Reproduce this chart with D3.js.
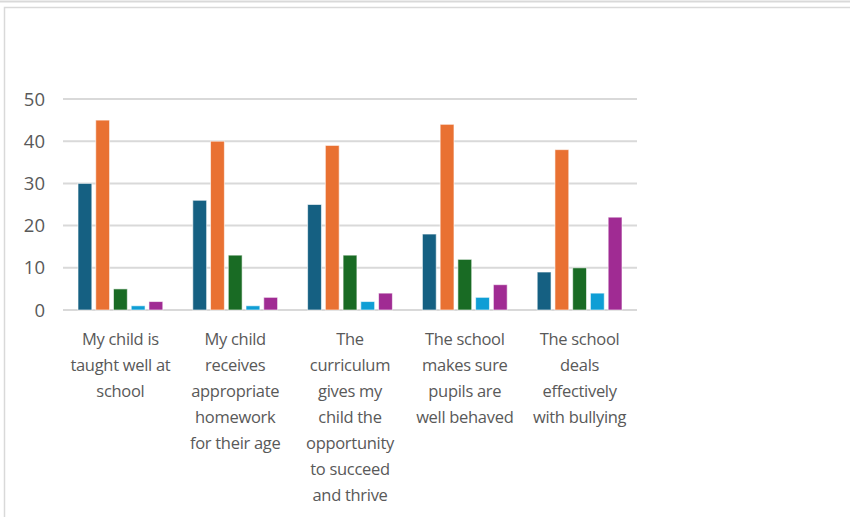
<!DOCTYPE html>
<html><head><meta charset="utf-8">
<script src="https://cdn.jsdelivr.net/npm/d3@7"></script>
<style>body{margin:0;background:#fff;} svg{display:block;}</style>
</head><body>
<svg id="c" width="850" height="517"></svg>
<script>
const categories = [
  "My child is\ntaught well at\nschool",
  "My child\nreceives\nappropriate\nhomework\nfor their age",
  "The\ncurriculum\ngives my\nchild the\nopportunity\nto succeed\nand thrive",
  "The school\nmakes sure\npupils are\nwell behaved",
  "The school\ndeals\neffectively\nwith bullying"
];
const seriesNames = ["S1","S2","S3","S4","S5"];
const s1 = [30, 26, 25, 18, 9];
const s2 = [45, 40, 39, 44, 38];
const s3 = [5, 13, 13, 12, 10];
const s4 = [1, 1, 2, 3, 4];
const s5 = [2, 3, 4, 6, 22];
const yTicks = [0, 10, 20, 30, 40, 50];
const colors = ["#156082", "#E97132", "#196B24", "#0F9ED5", "#A02B93"];

const series = [s1, s2, s3, s4, s5];
const svg = d3.select("#c");
const font = "'Open Sans', sans-serif";

// frames
svg.append("line").attr("x1",0).attr("x2",850).attr("y1",1.5).attr("y2",1.5).attr("stroke","#d9d9d9").attr("stroke-width",2);
svg.append("rect").attr("x",4.5).attr("y",7.5).attr("width",860).attr("height",520).attr("fill","#fff").attr("stroke","#d9d9d9").attr("stroke-width",1.5);

const x0 = d3.scaleBand().domain(d3.range(categories.length)).range([63, 637]).paddingInner(0).paddingOuter(0);
const y = d3.scaleLinear().domain([0, 50]).range([310, 99]);
const x1 = d3.scaleBand().domain(d3.range(series.length)).range([15, x0.bandwidth()-15]).paddingInner(0.22);

// gridlines
svg.append("g").selectAll("line").data(yTicks).join("line")
  .attr("x1", 63).attr("x2", 637)
  .attr("y1", d => y(d)).attr("y2", d => y(d))
  .attr("stroke", "#d9d9d9").attr("stroke-width", 2);

// y tick labels
svg.append("g").selectAll("text").data(yTicks).join("text")
  .attr("x", 45).attr("y", d => y(d)).attr("dy", "0.36em")
  .attr("text-anchor", "end").attr("font-family", font).attr("font-size", 18.5)
  .attr("fill", "#595959").text(d => d);

// bars
const g = svg.append("g");
categories.forEach((c, i) => {
  series.forEach((s, j) => {
    g.append("rect")
      .attr("x", x0(i) + x1(j))
      .attr("y", y(s[i]))
      .attr("width", x1.bandwidth())
      .attr("height", y(0) - y(s[i]))
      .attr("fill", colors[j])
      .attr("stroke", "#ffffff").attr("stroke-opacity", 0.6).attr("stroke-width", 1);
  });
});

// category labels
const lab = svg.append("g");
categories.forEach((c, i) => {
  const t = lab.append("text").attr("text-anchor","middle").attr("font-family", font)
    .attr("font-size", 16.5).attr("fill", "#595959").attr("letter-spacing", -0.3);
  c.split("\n").forEach((line, k) => {
    t.append("tspan").attr("x", x0(i) + x0.bandwidth()/2).attr("y", 345 + k*26).text(line);
  });
});
</script>
</body></html>
